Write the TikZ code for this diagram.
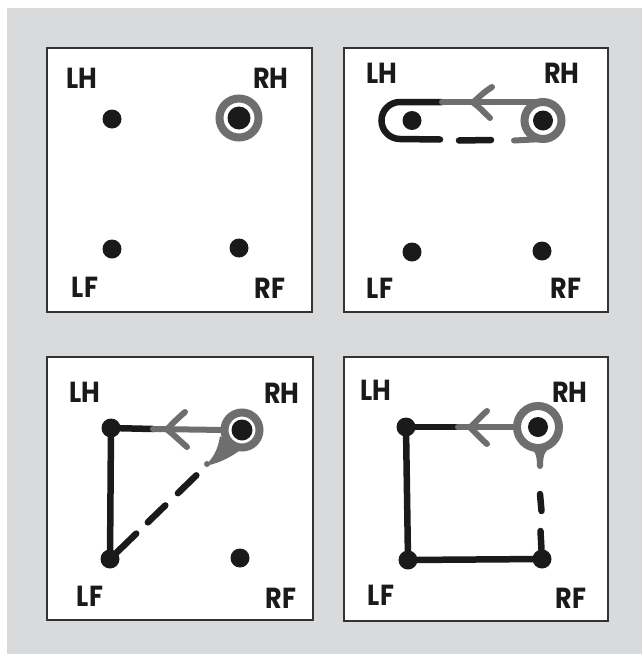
\documentclass[tikz,border=0pt]{standalone}
\usepackage{fontspec}
\setmainfont{Poppins}
\usetikzlibrary{calc}
\definecolor{bg}{HTML}{D9DADB}
\definecolor{ink}{HTML}{1A1A1A}
\definecolor{gr}{HTML}{6E6E6E}
\definecolor{frame}{HTML}{333333}
\tikzset{
  dot/.style={circle,fill=ink,inner sep=0pt,minimum size=19pt},
  bigdot/.style={dot,minimum size=21pt},
  lbl/.style={font=\bfseries\fontsize{29}{29}\selectfont,text=ink,inner sep=0pt,xscale=0.88},
  panel/.style={draw=frame,fill=white,line width=2pt},
  blk/.style={draw=ink,line width=6.5pt,line cap=round},
  gry/.style={draw=gr,line width=6pt,line cap=round},
  ring/.style={draw=gr,line width=8pt},
  tail/.style={fill=gr},
}
\begin{document}
\begin{tikzpicture}[x=1pt,y=-1pt]
\useasboundingbox (0,0) rectangle (642,654);
\fill[white] (0,0) rectangle (642,654);
\fill[bg] (7,8) rectangle (642,654);

% panels
\draw[panel] (47,48) rectangle (312,312);
\draw[panel] (344,48) rectangle (608,312);
\draw[panel] (47,357) rectangle (313,620);
\draw[panel] (344,357) rectangle (608,621);

% ---------- panel 1 ----------
\node[dot] (p1lh) at (112,119) {};
\node[bigdot,minimum size=23pt] (p1rh) at (239,118) {};
\node[dot] (p1lf) at (112,249) {};
\node[dot] (p1rf) at (239,248) {};
\draw[ring,line width=8pt] (p1rh.center) circle (19.5pt);
\node[lbl] (p1lhl) at (82,78) {LH};
\node[lbl] (p1rhl) at (271,78) {RH};
\node[lbl] (p1lfl) at (85,287) {LF};
\node[lbl] (p1rfl) at (270,288) {RF};

% ---------- panel 2 ----------
\node[dot] (p2lh) at (412,120.5) {};
\node[dot,minimum size=20pt] (p2rh) at (543,120.5) {};
\node[dot] (p2lf) at (412,252) {};
\node[dot] (p2rf) at (542,251) {};
\node[lbl] (p2lhl) at (382,73) {LH};
\node[lbl] (p2rhl) at (562,73) {RH};
\node[lbl] (p2lfl) at (380,288) {LF};
\node[lbl] (p2rfl) at (566,288) {RF};
\coordinate (p2t1) at (400,102);
\coordinate (p2t2) at (442,102);
\coordinate (p2t3) at (543,102);
\coordinate (p2b1) at (400,139);
\coordinate (p2b2) at (440,139.5);
\coordinate (p2d1) at (459,140.5);
\coordinate (p2d2) at (491,140);
\coordinate (p2g1) at (514,140.5);
\coordinate (p2g2) at (543,139);
\coordinate (p2a) at (473,102.5);
\coordinate (p2a1) at (492,87);
\coordinate (p2a2) at (490,118);
\draw[ring] (p2rh.center) circle (18.5pt);
\draw[blk] (p2t2) -- (p2t1) .. controls (389.8,102) and (381.5,110.3) .. (381.5,120.5)
  .. controls (381.5,130.7) and (389.8,139) .. (p2b1) -- (p2b2);
\draw[gry] (p2t2) -- (p2t3);
\draw[gry] (p2a1) .. controls (484,92) and (478,98) .. (p2a);
\draw[gry] (p2a2) .. controls (484,112) and (478,106) .. (p2a);
\draw[blk] (p2d1) -- (p2d2);
\draw[gry] (p2g1) -- (p2g2);

% ---------- panel 3 ----------
\node[dot] (p3lh) at (111,428) {};
\node[dot,minimum size=21pt] (p3rh) at (242,430) {};
\node[dot] (p3lf) at (110,559) {};
\node[dot] (p3rf) at (240,558) {};
\node[lbl] (p3lhl) at (85,392) {LH};
\node[lbl] (p3rhl) at (282,393) {RH};
\node[lbl] (p3lfl) at (90,596) {LF};
\node[lbl] (p3rfl) at (281,598) {RF};
\draw[ring] (p3rh.center) circle (17.5pt);
\fill[tail] (220,436) .. controls (218,450) and (213,458) .. (205,466)
  .. controls (216,464) and (228,459) .. (239,451) -- cycle;
\fill[gr] (207,464) circle (3pt);
\coordinate (p3tip) at (207,465);
\coordinate (p3m) at (153,429);
\coordinate (p3r) at (225,430);
\coordinate (p3a) at (167,429.5);
\coordinate (p3a1) at (185,412);
\coordinate (p3a2) at (187,447);
\draw[blk] (p3lh) -- (p3lf);
\draw[blk] (p3lh) -- (p3m);
\draw[gry] (p3m) -- (p3r);
\draw[gry] (p3a1) .. controls (178,418) and (172,424) .. (p3a);
\draw[gry] (p3a2) .. controls (179,440) and (173,434) .. (p3a);
\draw[blk] ($(p3tip)!0.11!(p3lf)$) -- ($(p3tip)!0.30!(p3lf)$);
\draw[blk] ($(p3tip)!0.43!(p3lf)$) -- ($(p3tip)!0.61!(p3lf)$);
\draw[blk] ($(p3tip)!0.73!(p3lf)$) -- (p3lf);

% ---------- panel 4 ----------
\node[dot] (p4lh) at (406,427) {};
\node[dot,minimum size=20pt] (p4rh) at (538,427) {};
\node[dot] (p4lf) at (408,560) {};
\node[dot] (p4rf) at (542,559) {};
\node[lbl] (p4lhl) at (376,390) {LH};
\node[lbl] (p4rhl) at (570,392) {RH};
\node[lbl] (p4lfl) at (381,595) {LF};
\node[lbl] (p4rfl) at (571,598) {RF};
\draw[ring] (p4rh.center) circle (21pt);
\fill[tail] (528,446) .. controls (535,450) and (537,455) .. (537,466)
  -- (543,466) .. controls (543,455) and (545,450) .. (552,446) -- cycle;
\fill[gr] (540,466) circle (3pt);
\coordinate (p4m) at (458,427);
\coordinate (p4r) at (517,427);
\coordinate (p4a) at (470,427.5);
\coordinate (p4a1) at (487,411);
\coordinate (p4a2) at (487,444);
\coordinate (p4d1) at (540,494);
\coordinate (p4d2) at (541.5,511);
\coordinate (p4d3) at (540.5,531);
\draw[blk] (p4lh) -- (p4lf);
\draw[blk] (p4lf) -- (p4rf);
\draw[blk] (p4lh) -- (p4m);
\draw[gry] (p4m) -- (p4r);
\draw[gry] (p4a1) .. controls (480,417) and (475,423) .. (p4a);
\draw[gry] (p4a2) .. controls (480,438) and (475,432) .. (p4a);
\draw[blk] (p4d1) -- (p4d2);
\draw[blk] (p4d3) -- (p4rf);
\end{tikzpicture}
\end{document}
